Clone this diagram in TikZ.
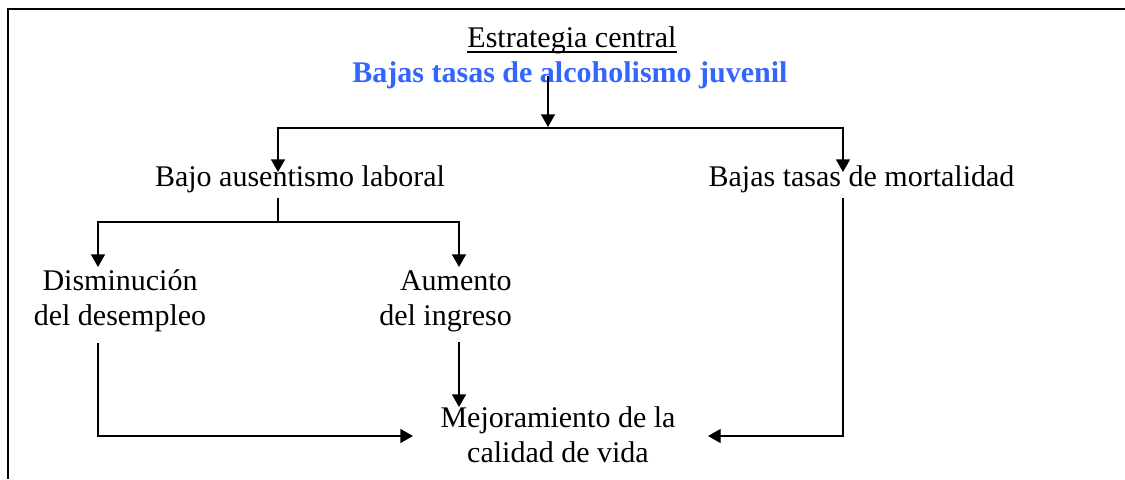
\documentclass[tikz,border=0pt]{standalone}
\usepackage{fontspec}
\setmainfont{Liberation Serif}
\usetikzlibrary{arrows.meta}
\definecolor{goalblue}{RGB}{51,102,255}
\begin{document}
\begin{tikzpicture}[x=0.75pt,y=-0.75pt,
  lbl/.style={inner sep=0pt,anchor=base,font=\fontsize{22.5}{26}\selectfont},
  conn/.style={line width=1pt,draw=black},
  arr/.style={conn,-{Triangle[length=9.5pt,width=10.5pt]}},
  frameline/.style={line width=1.5pt,draw=black}]
\useasboundingbox (0,0) rectangle (1125,479);
% frame
\draw[frameline] (1125,9) -- (8,9) -- (8,479);
% texts
\node[lbl] (title) at (572,47) {Estrategia central};
\draw[conn] ([yshift=-3.75pt]title.base west) -- ([yshift=-3.75pt]title.base east);
\node[lbl,font=\fontsize{22.5}{26}\selectfont\bfseries,text=goalblue] (goal) at (570,82) {Bajas tasas de alcoholismo juvenil};
\node[lbl] (bajo) at (300,186) {Bajo ausentismo laboral};
\node[lbl] (mort) at (861.5,186) {Bajas tasas de mortalidad};
\node[lbl,align=center] (dism) at (120,325) {Disminución\\del desempleo};
\node[lbl,align=right,anchor=base east] (aum) at (512,325) {Aumento\\del ingreso};
\node[lbl,align=center] (mej) at (558,462) {Mejoramiento de la\\calidad de vida};
% coordinates
\coordinate (g0) at (548,76);
\coordinate (g1) at (548,127);
\coordinate (b0) at (548,128);
\coordinate (bajoT) at (278,172);
\coordinate (mortT) at (843,172);
\coordinate (bajoB) at (278,198);
\coordinate (s1) at (278,222);
\coordinate (dismT) at (98,267);
\coordinate (aumT) at (459,267);
\coordinate (dismB) at (98,343);
\coordinate (aumB) at (459,342);
\coordinate (mortB) at (843,198);
\coordinate (mejL) at (413,436);
\coordinate (mejT) at (459,407);
\coordinate (mejR) at (708,436);
% connectors
\draw[arr] (g0) -- (g1);
\draw[arr] (b0) -| (bajoT);
\draw[arr] (b0) -| (mortT);
\draw[conn] (bajoB) -- (s1);
\draw[arr] (s1) -| (dismT);
\draw[arr] (s1) -| (aumT);
\draw[arr] (dismB) |- (mejL);
\draw[arr] (aumB) -- (mejT);
\draw[arr] (mortB) |- (mejR);
\end{tikzpicture}
\end{document}
